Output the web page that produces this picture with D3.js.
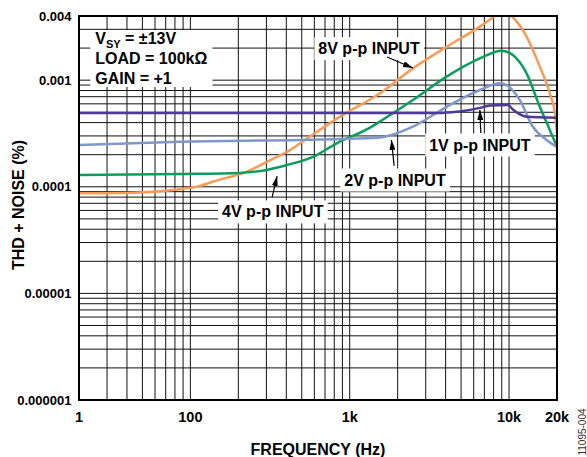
<!DOCTYPE html>
<html>
<head>
<meta charset="utf-8">
<script src="https://cdn.jsdelivr.net/npm/d3@7"></script>
<style>
  body { margin: 0; background: #fff; }
  text { font-family: 'Liberation Sans', Arial, Helvetica, sans-serif; font-weight: bold; fill: #000; }
</style>
</head>
<body>
<script>
// THD + N (%) vs frequency (Hz)
const freq8V = [20, 44, 86, 115, 139, 226, 317, 422, 488, 870, 1549, 2494, 4058, 6561, 8150, 9200, 10370, 12880, 15600, 18020, 19360, 20000];
const thd8V = [8.7e-5, 8.8e-5, 9.5e-5, 1.02e-4, 1.12e-4, 1.39e-4, 1.78e-4, 2.21e-4, 2.56e-4, 4.55e-4, 7.53e-4, 1.29e-3, 2.06e-3, 3.18e-3, 4.0e-3, 4.5e-3, 4.0e-3, 2.56e-3, 1.34e-3, 7.53e-4, 5.0e-4, 3.2e-4];

const freq4V = [20, 86, 205, 302, 403, 589, 829, 1278, 1549, 2494, 4058, 6561, 8974, 10568, 12880, 15600, 18020, 20000];
const thd4V = [1.29e-4, 1.32e-4, 1.35e-4, 1.44e-4, 1.60e-4, 1.91e-4, 2.56e-4, 3.45e-4, 4.1e-4, 6.51e-4, 1.08e-3, 1.60e-3, 1.89e-3, 1.72e-3, 1.16e-3, 5.63e-4, 3.41e-4, 2.37e-4];

const freq2V = [20, 86, 488, 870, 1549, 2494, 4058, 6561, 8758, 9650, 11690, 14100, 17190, 20000];
const thd2V = [2.47e-4, 2.65e-4, 2.75e-4, 2.8e-4, 2.9e-4, 3.66e-4, 5.63e-4, 8.09e-4, 9.35e-4, 9.0e-4, 6.51e-4, 3.66e-4, 2.75e-4, 2.37e-4];

const freq1V = [20, 1000, 3682, 4058, 5156, 6561, 7580, 9840, 10568, 12880, 20000];
const thd1V = [4.92e-4, 4.92e-4, 4.92e-4, 4.97e-4, 5.15e-4, 5.5e-4, 5.8e-4, 5.85e-4, 5.3e-4, 4.55e-4, 4.45e-4];

const xTickValues = [20, 100, 1000, 10000, 20000];
const xTickLabels = ['1', '100', '1k', '10k', '20k'];
const yTickValues = [0.004, 0.001, 0.0001, 0.00001, 0.000001];
const yTickLabels = ['0.004', '0.001', '0.0001', '0.00001', '0.000001'];

// curve labels: text, where it sits, and arrow (Hz, %)
const labelText = ['8V p-p INPUT', '4V p-p INPUT', '2V p-p INPUT', '1V p-p INPUT'];
const labelAt = [[1322, 1.98e-3], [329, 5.83e-5], [1924, 1.16e-4], [6561, 2.47e-4]];
const arrowFrom = [[1714, 1.65e-3], [326, 8.0e-5], [1900, 1.57e-4], [6650, 3.2e-4]];
const arrowTo = [[2494, 1.30e-3], [350, 1.26e-4], [1828, 2.75e-4], [6561, 5.25e-4]];

const width = 587, height = 457;
const margin = { top: 16, right: 30, bottom: 57, left: 79 };

const x = d3.scaleLog().domain([20, 20000]).range([margin.left, width - margin.right]);
const y = d3.scaleLog().domain([0.000001, 0.004]).range([height - margin.bottom, margin.top]);

const series = [
  { color: '#F89B56', freq: freq8V, thd: thd8V },
  { color: '#0A9E5C', freq: freq4V, thd: thd4V },
  { color: '#7D98CA', freq: freq2V, thd: thd2V },
  { color: '#4D3A94', freq: freq1V, thd: thd1V },
];

const svg = d3.select('body').append('svg')
  .attr('width', width).attr('height', height)
  .style('background', '#fff');

svg.append('defs').append('clipPath').attr('id', 'plot')
  .append('rect')
  .attr('x', margin.left).attr('y', margin.top)
  .attr('width', width - margin.left - margin.right)
  .attr('height', height - margin.top - margin.bottom);

svg.select('defs').append('marker')
  .attr('id', 'head')
  .attr('markerUnits', 'userSpaceOnUse')
  .attr('markerWidth', 10).attr('markerHeight', 6)
  .attr('refX', 10).attr('refY', 3)
  .attr('orient', 'auto')
  .append('path').attr('d', 'M0,0L10,3L0,6Z').attr('fill', '#000');

// grid: every 1..9 step of each decade
let xGrid = [];
for (let d = 10; d <= 10000; d *= 10) {
  for (let k = 1; k <= 9; k++) {
    const v = k * d;
    if (v >= 20 && v <= 20000) xGrid.push(v);
  }
}
xGrid.push(20000);
let yGrid = [];
for (let d = 0.000001; d < 0.001; d *= 10) {
  for (let k = 1; k <= 9; k++) yGrid.push(k * d);
}
yGrid.push(0.001, 0.002, 0.003);

const grid = svg.append('g').attr('stroke', '#111').attr('stroke-width', 1);
grid.selectAll('line.v').data(xGrid).enter().append('line')
  .attr('class', 'v')
  .attr('x1', (d) => x(d)).attr('x2', (d) => x(d))
  .attr('y1', margin.top).attr('y2', height - margin.bottom);
grid.selectAll('line.h').data(yGrid).enter().append('line')
  .attr('class', 'h')
  .attr('y1', (d) => y(d)).attr('y2', (d) => y(d))
  .attr('x1', margin.left).attr('x2', width - margin.right);

// curves
const line = d3.line()
  .x((d) => x(d[0]))
  .y((d) => y(d[1]))
  .curve(d3.curveMonotoneX);

svg.append('g').attr('clip-path', 'url(#plot)')
  .selectAll('path')
  .data(series)
  .enter()
  .append('path')
  .attr('d', (s) => line(s.freq.map((f, i) => [f, s.thd[i]])))
  .attr('fill', 'none')
  .attr('stroke', (s) => s.color)
  .attr('stroke-width', 2.5);

// text with a white box behind it
function boxed(g, pad) {
  const b = g.node().getBBox();
  g.insert('rect', ':first-child')
    .attr('x', b.x - pad[0]).attr('y', b.y - pad[1])
    .attr('width', b.width + 2 * pad[0]).attr('height', b.height + 2 * pad[1])
    .attr('fill', '#fff');
}

// conditions block
const info = svg.append('g');
const t1 = info.append('text').attr('x', x(25.3)).attr('y', 44).attr('font-size', 16);
t1.append('tspan').text('V');
t1.append('tspan').attr('font-size', 11).attr('dy', 4).text('SY');
t1.append('tspan').attr('dy', -4).text(' = ±13V');
info.append('text').attr('x', x(25.3)).attr('y', 64.3).attr('font-size', 16).text('LOAD = 100kΩ');
info.append('text').attr('x', x(25.3)).attr('y', 84).attr('font-size', 16).text('GAIN = +1');
boxed(info, [5, 0]);

labelText.forEach((t, i) => {
  const g = svg.append('g');
  g.append('text')
    .attr('x', x(labelAt[i][0])).attr('y', y(labelAt[i][1]))
    .attr('dy', '0.35em')
    .attr('text-anchor', 'middle')
    .attr('font-size', 16)
    .text(t);
  boxed(g, [4, 3]);
  svg.append('line')
    .attr('x1', x(arrowFrom[i][0])).attr('y1', y(arrowFrom[i][1]))
    .attr('x2', x(arrowTo[i][0])).attr('y2', y(arrowTo[i][1]))
    .attr('stroke', '#000').attr('stroke-width', 1.2)
    .attr('marker-end', 'url(#head)');
});

// frame
svg.append('rect')
  .attr('x', margin.left).attr('y', margin.top)
  .attr('width', width - margin.left - margin.right)
  .attr('height', height - margin.top - margin.bottom)
  .attr('fill', 'none').attr('stroke', '#000').attr('stroke-width', 2);

// tick labels
svg.selectAll('text.xt').data(xTickValues).enter().append('text')
  .attr('class', 'xt')
  .attr('x', (d) => x(d)).attr('y', 422)
  .attr('text-anchor', 'middle')
  .attr('font-size', 14.5)
  .text((d, i) => xTickLabels[i]);

svg.selectAll('text.yt').data(yTickValues).enter().append('text')
  .attr('class', 'yt')
  .attr('x', 71.5).attr('y', (d) => y(d))
  .attr('dy', '0.35em')
  .attr('text-anchor', 'end')
  .attr('font-size', 13)
  .text((d, i) => yTickLabels[i]);

// axis titles
svg.append('text')
  .attr('x', (margin.left + width - margin.right) / 2).attr('y', 455)
  .attr('text-anchor', 'middle').attr('font-size', 16)
  .text('FREQUENCY (Hz)');

svg.append('text')
  .attr('transform', 'translate(24,205) rotate(-90)')
  .attr('text-anchor', 'middle').attr('font-size', 16)
  .text('THD + NOISE (%)');

svg.append('text')
  .attr('transform', 'translate(586,432) rotate(-90)')
  .attr('text-anchor', 'middle').attr('font-size', 10)
  .style('font-weight', 'normal').style('fill', '#333')
  .text('11095-004');
</script>
</body>
</html>
